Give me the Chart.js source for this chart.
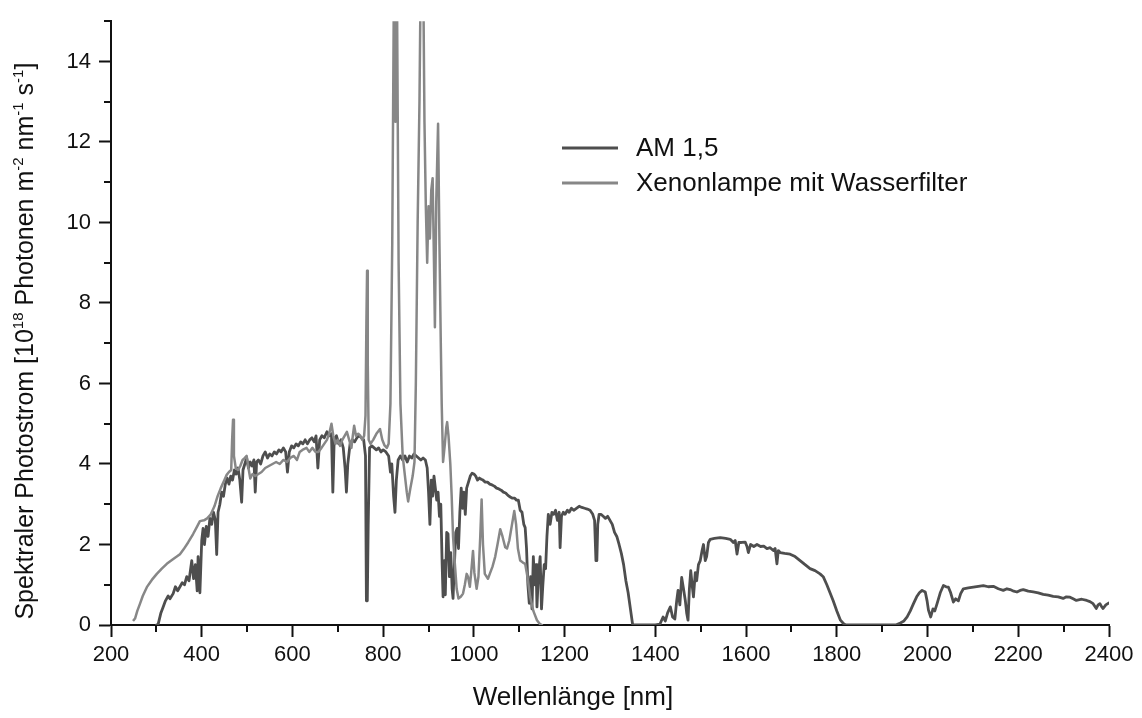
<!DOCTYPE html>
<html>
<head>
<meta charset="utf-8">
<script src="https://cdn.jsdelivr.net/npm/chart.js@4.4.1/dist/chart.umd.min.js"></script>
<style>
  html, body { margin: 0; padding: 0; background: #ffffff; }
  #wrap { width: 1142px; height: 718px; position: relative; }
</style>
</head>
<body>
<div id="wrap"><canvas id="c" width="1142" height="718"></canvas></div>
<script>
// ---------- DATA ----------
const seriesNames = ["AM 1,5", "Xenonlampe mit Wasserfilter"];
const xTickValues = [200, 400, 600, 800, 1000, 1200, 1400, 1600, 1800, 2000, 2200, 2400];
const yTickValues = [0, 2, 4, 6, 8, 10, 12, 14];
const xTitle = "Wellenlänge [nm]";

const amWavelength = [300,304,310,315,320,326,330,337,342,347,352,357,362,367,372,378,382,386,390,392,396,400,403,406,410,414,418,422,426,430,433,436,440,444,448,452,456,460,464,468,472,476,480,484,488,491,495,499,503,507,511,515,518,521,525,530,535,540,545,550,555,560,565,570,575,580,585,589,593,598,603,608,613,618,623,628,633,638,643,648,652,656,660,665,670,676,681,686,689,692,697,702,707,712,716,719,722,727,732,737,742,747,752,757,761,763,765,767,770,775,780,785,790,795,800,806,812,816,819,823,826,829,833,838,843,848,853,858,863,868,873,878,883,888,893,897,900,903,906,909,912,915,918,921,924,927,930,932,935,937,940,943,946,949,952,954,957,960,963,966,969,972,975,978,981,984,988,992,996,1000,1004,1008,1012,1016,1020,1025,1030,1035,1040,1045,1050,1055,1060,1065,1070,1075,1080,1085,1090,1094,1098,1102,1106,1110,1113,1116,1119,1122,1125,1128,1131,1134,1137,1139,1142,1146,1149,1152,1155,1158,1161,1164,1168,1172,1176,1180,1184,1188,1190,1193,1197,1201,1206,1210,1215,1220,1226,1232,1238,1244,1250,1256,1262,1266,1269,1271,1273,1276,1280,1285,1290,1295,1300,1305,1310,1315,1320,1325,1330,1335,1340,1345,1350,1400,1410,1417,1422,1427,1433,1438,1443,1447,1450,1454,1458,1462,1466,1469,1472,1475,1478,1481,1484,1488,1491,1495,1499,1503,1506,1510,1513,1517,1521,1530,1543,1555,1565,1572,1576,1580,1584,1590,1598,1602,1605,1610,1617,1624,1632,1639,1646,1653,1660,1664,1668,1671,1675,1685,1697,1708,1719,1730,1741,1752,1763,1770,1778,1785,1792,1800,1808,1815,1820,1930,1940,1948,1955,1962,1969,1976,1982,1988,1995,1999,2002,2007,2012,2016,2021,2028,2035,2041,2046,2051,2057,2062,2068,2073,2079,2090,2101,2112,2123,2134,2145,2156,2167,2175,2182,2190,2197,2204,2211,2222,2233,2244,2255,2266,2277,2288,2299,2306,2314,2321,2328,2340,2351,2358,2365,2372,2376,2380,2384,2387,2393,2400];
const amPhotonFlux = [0,0.02,0.3,0.45,0.6,0.72,0.65,0.78,0.95,0.85,0.95,1.05,1.0,1.2,1.1,1.6,1.15,1.5,0.85,1.7,0.8,2.1,2.4,2.0,2.45,2.2,2.65,2.5,2.8,2.6,1.75,2.8,3.0,3.3,3.2,3.5,3.65,3.5,3.7,3.6,3.85,3.75,3.9,3.6,3.05,3.85,4.0,4.15,3.9,4.05,3.95,4.1,3.3,4.05,4.1,4.0,4.2,4.3,4.15,4.25,4.2,4.3,4.25,4.35,4.3,4.4,4.3,3.8,4.3,4.45,4.4,4.5,4.45,4.55,4.5,4.6,4.5,4.6,4.65,4.55,4.7,3.9,4.6,4.7,4.65,4.8,4.7,4.75,3.3,4.6,4.7,4.5,4.6,4.4,3.9,3.3,4.0,4.5,4.6,4.55,4.65,4.7,4.65,4.6,4.2,0.6,0.6,2.5,4.4,4.45,4.4,4.35,4.4,4.3,4.35,4.3,4.2,3.8,4.0,3.2,2.8,3.6,4.1,4.2,4.1,4.2,4.05,4.2,4.15,4.25,4.2,4.15,4.1,4.15,4.1,3.9,3.3,2.5,3.6,3.2,3.7,3.4,3.1,3.3,2.7,3.0,1.5,0.7,1.6,0.75,2.3,2.26,1.2,1.8,0.9,0.66,1.5,2.3,2.4,1.9,2.8,3.4,2.9,3.3,2.75,3.4,3.55,3.7,3.77,3.75,3.7,3.6,3.65,3.62,3.6,3.55,3.55,3.5,3.48,3.45,3.4,3.38,3.35,3.3,3.28,3.22,3.18,3.15,3.15,3.1,3.1,2.85,2.8,2.5,2.42,1.9,1.0,0.54,1.2,0.4,1.7,1.0,1.5,0.45,1.2,1.7,0.4,1.0,1.5,1.4,2.2,2.75,2.5,2.8,2.75,2.85,2.6,2.8,1.92,2.7,2.8,2.75,2.85,2.8,2.9,2.85,2.9,2.95,2.92,2.9,2.88,2.85,2.75,2.6,1.6,1.6,2.5,2.75,2.75,2.7,2.65,2.7,2.6,2.5,2.3,2.2,2.0,1.78,1.5,1.1,0.8,0.4,0.0,0.0,0.02,0.2,0.1,0.3,0.45,0.2,0.15,0.6,0.86,0.5,1.18,0.9,0.61,0.3,0.12,0.9,1.35,1.0,0.7,1.3,1.1,1.5,1.6,1.85,2.0,1.6,1.7,2.05,2.13,2.15,2.17,2.15,2.13,2.05,2.1,1.76,2.05,2.05,2.06,1.95,1.8,2.0,1.95,2.0,1.95,1.96,1.9,1.92,1.85,1.9,1.52,1.85,1.8,1.78,1.76,1.7,1.6,1.5,1.4,1.35,1.27,1.2,1.0,0.8,0.6,0.35,0.12,0.03,0.0,0.0,0.05,0.1,0.2,0.35,0.53,0.7,0.8,0.86,0.82,0.6,0.37,0.2,0.4,0.35,0.53,0.8,0.98,0.95,0.94,0.8,0.57,0.65,0.6,0.78,0.9,0.92,0.94,0.96,0.98,0.95,0.96,0.9,0.86,0.9,0.88,0.84,0.82,0.86,0.88,0.84,0.82,0.8,0.76,0.74,0.71,0.7,0.66,0.7,0.69,0.65,0.61,0.64,0.61,0.58,0.53,0.41,0.5,0.53,0.45,0.41,0.5,0.55];

const xeWavelength = [250,253,258,264,270,279,290,301,312,323,335,345,352,360,370,381,390,396,405,412,420,428,435,442,450,455,460,465,467,469,471,475,480,485,490,495,499,503,507,512,518,525,532,540,548,556,564,572,580,588,595,603,610,616,622,631,637,644,651,657,664,670,676,681,686,690,695,700,705,710,715,720,725,730,733,736,740,745,749,754,758,761,763,764.5,766,768,772,778,785,793,798,803,808,812,816,820,824,827,830,834,838,843,848,852,855,860,865,869,872,876,880,883,888,891,894,897,900,903,906,909,912,914,917,921,924,927,929,932,936,939,941,944,948,951,954,958,962,966,971,976,980,984,987,991,994,998,1001,1006,1010,1014,1017,1020,1024,1031,1036,1041,1047,1052,1058,1063,1069,1073,1078,1084,1089,1093,1097,1102,1108,1113,1118,1124,1131,1139,1145,1150];
const xePhotonFlux = [0.12,0.16,0.35,0.53,0.72,0.94,1.12,1.27,1.4,1.52,1.62,1.7,1.76,1.88,2.05,2.26,2.45,2.58,2.6,2.65,2.75,2.95,3.2,3.4,3.6,3.73,3.8,3.85,4.6,5.1,4.2,3.9,3.85,3.95,4.1,4.15,4.2,3.9,3.64,3.75,3.7,3.75,3.8,3.9,3.95,4.0,4.05,4.0,4.1,4.05,4.15,4.2,4.1,4.3,4.35,4.4,4.3,4.4,4.3,4.3,4.4,4.5,4.6,4.75,5.0,4.7,4.5,4.6,4.45,4.6,4.7,4.8,4.6,4.4,4.7,4.95,4.7,4.75,4.71,4.6,4.7,5.2,7.5,8.8,6.5,4.6,4.5,4.6,4.75,4.87,4.6,4.46,4.4,4.5,5.5,9.5,16.5,12.5,16.5,9,5.5,4.2,3.7,3.3,3.07,3.4,3.7,4.05,6,10,13.0,16.5,16.5,12.5,10.4,9.0,10.4,9.6,10.8,11.1,9.0,7.4,10.5,12.45,9.5,7.0,5.5,4.05,4.5,4.9,5.04,4.7,4.0,3.2,2.2,1.52,0.9,0.66,0.7,0.78,1.0,1.27,1.2,0.95,1.3,1.84,1.3,0.9,1.2,2.2,3.12,2.0,1.27,1.15,1.3,1.45,1.7,2.0,2.38,2.2,1.93,1.9,2.1,2.5,2.83,2.5,1.9,1.6,1.55,1.52,1.2,0.7,0.35,0.12,0.03,0.0];

// ---------- STYLE ----------
const amColor = '#4e4e4e';
const xeColor = '#878787';
const axisColor = '#111111';
const textColor = '#111111';
const FONT = '"Liberation Sans", Arial, Helvetica, sans-serif';

function toPoints(xs, ys) { return xs.map((x, i) => ({ x: x, y: ys[i] })); }

// minor ticks, legend and axis titles plugin
const extras = {
  id: 'extras',
  afterDraw(chart) {
    const ctx = chart.ctx;
    const xs = chart.scales.x, ys = chart.scales.y;
    const area = chart.chartArea;
    ctx.save();
    ctx.strokeStyle = axisColor;
    ctx.lineWidth = 2;
    // minor ticks x
    for (let i = 0; i < xTickValues.length - 1; i++) {
      const v = (xTickValues[i] + xTickValues[i + 1]) / 2;
      const px = Math.round(xs.getPixelForValue(v));
      ctx.beginPath(); ctx.moveTo(px, area.bottom); ctx.lineTo(px, area.bottom + 7); ctx.stroke();
    }
    // minor ticks y
    for (let i = 0; i < yTickValues.length; i++) {
      const v = yTickValues[i] + 1;
      const py = Math.round(ys.getPixelForValue(v));
      ctx.beginPath(); ctx.moveTo(area.left, py); ctx.lineTo(area.left - 7, py); ctx.stroke();
    }
    // legend
    const legendX = 562, legendY = [148, 183], legendLen = 56;
    const colors = [amColor, xeColor];
    ctx.font = '26px ' + FONT;
    ctx.textBaseline = 'middle';
    ctx.textAlign = 'left';
    for (let i = 0; i < seriesNames.length; i++) {
      ctx.strokeStyle = colors[i];
      ctx.lineWidth = 2.8;
      ctx.beginPath(); ctx.moveTo(legendX, legendY[i]); ctx.lineTo(legendX + legendLen, legendY[i]); ctx.stroke();
      ctx.fillStyle = textColor;
      ctx.fillText(seriesNames[i], 636, legendY[i] + 1);
    }
    // x title
    ctx.font = '26px ' + FONT;
    ctx.textAlign = 'center';
    ctx.textBaseline = 'middle';
    ctx.fillText(xTitle, 573, 698);
    // y title with superscripts
    ctx.textAlign = 'left';
    const parts = [
      ['Spektraler Photostrom [10', false], ['18', true], [' Photonen m', false], ['-2', true],
      [' nm', false], ['-1', true], [' s', false], ['-1', true], [']', false]
    ];
    const big = '25px ' + FONT, small = '15px ' + FONT;
    let total = 0;
    parts.forEach(p => { ctx.font = p[1] ? small : big; total += ctx.measureText(p[0]).width; });
    ctx.translate(24, (area.top + area.bottom) / 2 + 18);
    ctx.rotate(-Math.PI / 2);
    ctx.fillStyle = textColor;
    ctx.textBaseline = 'alphabetic';
    let x = -total / 2;
    parts.forEach(p => {
      ctx.font = p[1] ? small : big;
      ctx.fillText(p[0], x, p[1] ? -1 : 9);
      x += ctx.measureText(p[0]).width;
    });
    ctx.restore();
  }
};

new Chart(document.getElementById('c'), {
  type: 'line',
  data: {
    datasets: [
      { label: seriesNames[0], data: toPoints(amWavelength, amPhotonFlux), borderColor: amColor, borderWidth: 2.8, pointRadius: 0, tension: 0, fill: false, order: 1 },
      { label: seriesNames[1], data: toPoints(xeWavelength, xePhotonFlux), borderColor: xeColor, borderWidth: 2.5, pointRadius: 0, tension: 0, fill: false, order: 0 }
    ]
  },
  options: {
    responsive: false,
    animation: false,
    devicePixelRatio: 1,
    layout: { padding: { top: 14, right: 33, left: 0, bottom: 0 } },
    plugins: { legend: { display: false }, tooltip: { enabled: false } },
    elements: { line: { borderJoinStyle: 'round', borderCapStyle: 'round' } },
    scales: {
      x: {
        type: 'linear', min: 200, max: 2400,
        afterFit(s) { s.height = 93; },
        afterBuildTicks(s) { s.ticks = xTickValues.map(v => ({ value: v })); },
        ticks: { font: { family: FONT, size: 22 }, color: textColor, padding: 5, maxRotation: 0, autoSkip: false, callback: v => String(v) },
        grid: { drawOnChartArea: false, drawTicks: true, tickLength: 12, tickColor: axisColor, tickWidth: 2 },
        border: { display: true, color: axisColor, width: 2 },
        title: { display: false, text: xTitle }
      },
      y: {
        type: 'linear', min: 0, max: 15,
        afterFit(s) { s.width = 111; },
        afterBuildTicks(s) { s.ticks = yTickValues.map(v => ({ value: v })); },
        ticks: { font: { family: FONT, size: 22 }, color: textColor, padding: 8, autoSkip: false, callback: v => String(v) },
        grid: { drawOnChartArea: false, drawTicks: true, tickLength: 12, tickColor: axisColor, tickWidth: 2 },
        border: { display: true, color: axisColor, width: 2 }
      }
    }
  },
  plugins: [extras]
});
</script>
</body>
</html>
